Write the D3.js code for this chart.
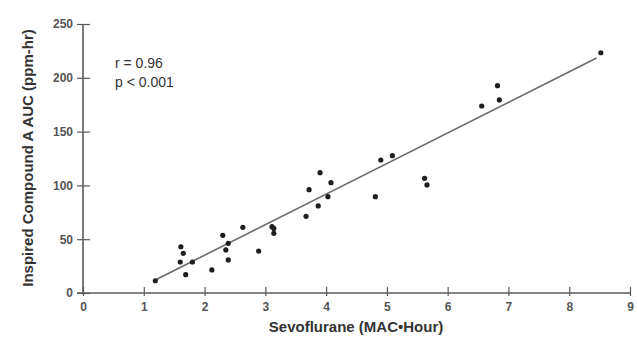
<!DOCTYPE html>
<html><head><meta charset="utf-8">
<script src="https://cdn.jsdelivr.net/npm/d3@7"></script>
<style>body{margin:0;background:#fff}svg{display:block}</style>
</head><body>
<svg id="c" width="637" height="345"></svg>
<script>
const sevoMAC = [1.19,1.61,1.65,1.60,1.80,1.69,2.12,2.30,2.39,2.35,2.39,2.63,2.89,3.11,3.14,3.14,3.72,3.90,4.08,4.03,3.87,3.67,4.90,5.09,4.81,5.62,5.66,6.56,6.82,6.85,8.52];
const compoundA = [11.4,43,36.9,28.8,28.8,17,21.4,53.6,46.2,40,30.7,61,39,61.6,60,55.5,96,111.8,102.5,89.5,80.9,71.3,123.6,127.6,89.5,106.6,100.4,173.8,192.7,179.4,223.3];
const fitLineX = [1.19, 8.45];
const fitLineY = [12.1, 218.4];
const xTicks = [0,1,2,3,4,5,6,7,8,9];
const yTicks = [0,50,100,150,200,250];
const statLines = ["r = 0.96", "p < 0.001"];

const svg = d3.select("#c");
const x = d3.scaleLinear().domain([0,9]).range([83,630]);
const y = d3.scaleLinear().domain([0,250]).range([293,24]);
const axisCol = "#5a5a5a";
const font = "'Liberation Sans', Arial, Helvetica, sans-serif";

// x axis
const xa = svg.append("g").attr("transform","translate(0,293)")
  .call(d3.axisBottom(x).tickValues(xTicks).tickSize(3).tickFormat(d3.format("d")));
xa.select(".domain").remove();
xa.selectAll(".tick line").attr("y1",-6).attr("y2",3).attr("stroke",axisCol).attr("stroke-width",1.2);
xa.selectAll(".tick text").attr("y",9).attr("font-family",font).attr("font-size",12).attr("font-weight","bold").attr("fill","#555");
svg.append("line").attr("x1",77).attr("x2",x(9)).attr("y1",293).attr("y2",293).attr("stroke",axisCol).attr("stroke-width",1.6);

// y axis
const ya = svg.append("g").attr("transform","translate(83,0)")
  .call(d3.axisLeft(y).tickValues(yTicks).tickSize(6));
ya.select(".domain").remove();
ya.selectAll(".tick line").attr("x1",-6).attr("x2",7).attr("stroke",axisCol).attr("stroke-width",1.2);
ya.selectAll(".tick text").attr("x",-10).attr("font-family",font).attr("font-size",12).attr("font-weight","bold").attr("fill","#555");
svg.append("line").attr("x1",83).attr("x2",83).attr("y1",y(250)).attr("y2",293).attr("stroke",axisCol).attr("stroke-width",1.6);

// fit line
svg.append("line").attr("x1",x(fitLineX[0])).attr("y1",y(fitLineY[0]))
  .attr("x2",x(fitLineX[1])).attr("y2",y(fitLineY[1]))
  .attr("stroke","#6a6a6a").attr("stroke-width",1.6);

// points
svg.append("g").selectAll("circle").data(sevoMAC).join("circle")
  .attr("cx",(d)=>x(d)).attr("cy",(d,i)=>y(compoundA[i])).attr("r",2.6).attr("fill","#1e1e1e");

// stats
svg.append("g").selectAll("text").data(statLines).join("text")
  .attr("x",115).attr("y",(d,i)=>68+i*19).text(d=>d)
  .attr("font-family",font).attr("font-size",14).attr("fill","#333");

// axis titles
svg.append("text").attr("x",356).attr("y",332).attr("text-anchor","middle")
  .attr("font-family",font).attr("font-size",15).attr("font-weight","bold").attr("fill","#333")
  .text("Sevoflurane (MAC\u2022Hour)");
svg.append("text").attr("transform","translate(33,158) rotate(-90)").attr("text-anchor","middle")
  .attr("font-family",font).attr("font-size",15).attr("font-weight","bold").attr("fill","#333")
  .text("Inspired Compound A AUC (ppm-hr)");
</script>
</body></html>
